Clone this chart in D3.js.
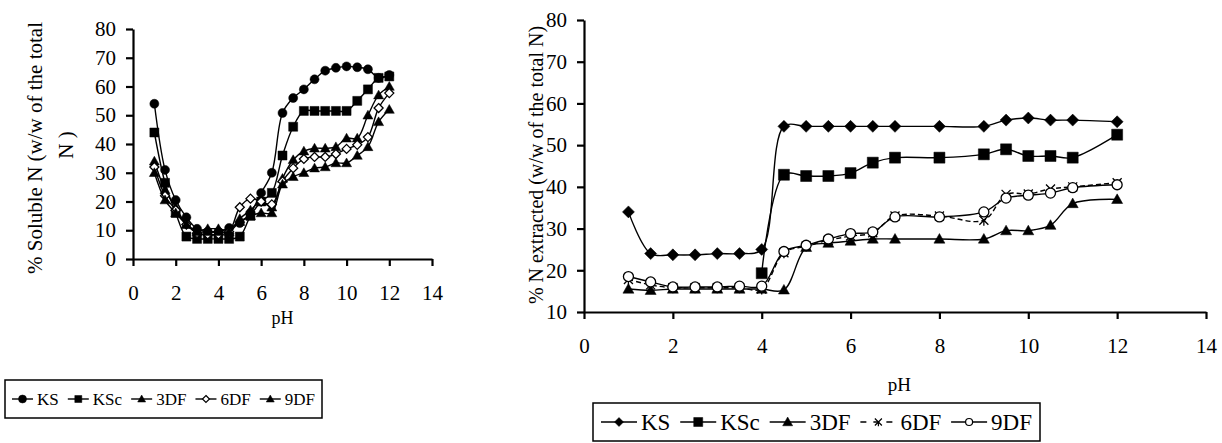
<!DOCTYPE html>
<html>
<head>
<meta charset="utf-8">
<script src="https://cdn.jsdelivr.net/npm/d3@7"></script>
<style>
  body { margin: 0; background: #fff; }
  svg, svg text { font-family: "Liberation Serif", Tinos, "Times New Roman", Times, "DejaVu Serif", serif; }
</style>
</head>
<body>
<svg id="chart" width="1222" height="443"></svg>
<script>
// ---- data ----
const SERIES_NAMES = ['KS', 'KSc', '3DF', '6DF', '9DF'];

// left panel: % soluble N
const PH_LEFT = [1, 1.5, 2, 2.5, 3, 3.5, 4, 4.5, 5, 5.5, 6, 6.5, 7, 7.5, 8, 8.5, 9, 9.5, 10, 10.5, 11, 11.5, 12];
const KS_LEFT = [54, 31, 20.5, 14.5, 10.5, 9.5, 9.5, 10.8, 12.5, 16, 23, 30, 50.8, 56, 59, 62.5, 65.5, 66.5, 67, 66.7, 66, 63, 64];
const KSC_LEFT = [44, 26.5, 16, 7.8, 7, 7, 7, 7, 7.8, 15, 20, 23, 36, 46, 51.5, 51.5, 51.5, 51.5, 51.5, 55, 59, 63, 63.5];
const DF3_LEFT = [34, 24, 18, 12, 10, 10.5, 10.5, 10, 14, 17, 20, 18, 28, 34.5, 37.5, 38.5, 38.5, 39, 42, 42, 50, 57, 60];
const DF6_LEFT = [32, 22, 17, 12, 9, 8.5, 8.5, 9.5, 18, 21, 20, 19, 27, 31.6, 34.8, 35.5, 35.5, 36.5, 38.3, 39.7, 42.4, 52.5, 57.7];
const DF9_LEFT = [30, 20.5, 16, 12, 9.5, 9.5, 9.5, 9.5, 13, 15, 16, 16, 26, 28.6, 30, 31.6, 32, 33.4, 33.4, 36, 39, 47.7, 52];

// right panel: % N extracted
const PH_RIGHT = [1, 1.5, 2, 2.5, 3, 3.5, 4, 4.5, 5, 5.5, 6, 6.5, 7, 8, 9, 9.5, 10, 10.5, 11, 12];
const KS_RIGHT = [34, 24, 23.7, 23.7, 24, 24, 25, 54.5, 54.5, 54.5, 54.5, 54.5, 54.5, 54.5, 54.5, 56, 56.5, 56, 56, 55.6];
const KSC_RIGHT = [null, null, null, null, null, null, 19.3, 42.9, 42.6, 42.6, 43.3, 45.8, 47, 47, 47.8, 49, 47.4, 47.4, 47, 52.5];
const DF3_RIGHT = [15.5, 15.2, 15.5, 15.5, 15.5, 15.5, 15.5, 15.3, 25.5, 26.5, 27, 27.5, 27.5, 27.5, 27.5, 29.5, 29.5, 30.8, 36, 37];
const DF6_RIGHT = [17.8, 16.5, 15.8, 15.8, 15.8, 15.8, 15.5, 24.2, 25.8, 27.2, 28.2, 29, 33, 33, 32, 38.2, 38.3, 39.5, 40, 41];
const DF9_RIGHT = [18.5, 17.2, 16, 16, 16, 16.2, 16.2, 24.5, 26, 27.5, 28.8, 29.2, 32.8, 32.8, 34, 37.3, 38, 38.5, 39.8, 40.5];

const X_TICKS = [0, 2, 4, 6, 8, 10, 12, 14];
const Y_TICKS_LEFT = [0, 10, 20, 30, 40, 50, 60, 70, 80];
const Y_TICKS_RIGHT = [10, 20, 30, 40, 50, 60, 70, 80];

// ---- layout ----
const LEFT = { x0: 133, x1: 432, yBottom: 259, yTop: 29 };
const RIGHT = { x0: 584, x1: 1206, yBottom: 312, yTop: 20 };
const TICK_FONT = 21;
const SERIF = '"Liberation Serif", Tinos, "Times New Roman", Times, "DejaVu Serif", serif';

const svg = d3.select('#chart');

/**
 * path string for a marker centred on 0,0
 */
function markerPath (shape, s) {
  const h = s / 2;
  if (shape === 'circle') return d3.symbol(d3.symbolCircle, Math.PI * h * h)();
  if (shape === 'square') return `M${-h},${-h}H${h}V${h}H${-h}Z`;
  if (shape === 'triangle') return `M0,${-h}L${h},${h * 0.75}L${-h},${h * 0.75}Z`;
  if (shape === 'diamond') return `M0,${-h}L${h},0L0,${h}L${-h},0Z`;
  if (shape === 'star') return `M${-h},${-h}L${h},${h}M${h},${-h}L${-h},${h}M0,${-h * 0.2}V${h * 1.2}`;
  return '';
}

function addText (x, y, str, size, rotate) {
  return svg.append('text')
    .attr('transform', `translate(${x},${y})` + (rotate ? ' rotate(-90)' : ''))
    .attr('text-anchor', 'middle')
    .attr('dy', '0.35em')
    .attr('font-family', SERIF)
    .style('font-size', size + 'px')
    .text(str);
}

function drawAxes (box, x, y, yTicks) {
  const xAxis = svg.append('g')
    .attr('transform', `translate(0,${box.yBottom})`)
    .call(d3.axisBottom(x).tickValues(X_TICKS).tickSize(7).tickSizeOuter(0).tickPadding(19));
  const yAxis = svg.append('g')
    .attr('transform', `translate(${box.x0},0)`)
    .call(d3.axisLeft(y).tickValues(yTicks).tickSize(7).tickSizeOuter(0).tickPadding(10));
  [xAxis, yAxis].forEach(a => {
    a.attr('font-family', SERIF);
    a.select('.domain').attr('stroke', '#000').attr('stroke-width', 2.2);
    a.selectAll('.tick line').attr('stroke', '#000').attr('stroke-width', 2.2);
    a.selectAll('.tick text')
      .attr('fill', '#000')
      .attr('font-family', SERIF)
      .style('font-size', TICK_FONT + 'px');
  });
}

function drawSeries (x, y, ph, series) {
  series.forEach(s => {
    const pts = ph.map((p, i) => ({ p, v: s.values[i] })).filter(d => d.v !== null);
    const line = d3.line()
      .x(d => x(d.p))
      .y(d => y(d.v))
      .curve(d3.curveCatmullRom.alpha(0.5));
    svg.append('path')
      .datum(pts)
      .attr('d', line)
      .attr('fill', 'none')
      .attr('stroke', '#000')
      .attr('stroke-width', 1.4)
      .attr('stroke-dasharray', s.dash || null);
    svg.append('g')
      .selectAll('path')
      .data(pts)
      .join('path')
      .attr('transform', d => `translate(${x(d.p)},${y(d.v)})`)
      .attr('d', markerPath(s.shape, s.size))
      .attr('fill', s.open ? '#fff' : '#000')
      .attr('stroke', '#000')
      .attr('stroke-width', s.open || s.shape === 'star' ? 1.3 : 0.5);
  });
}

/**
 * legend laid out left to right inside a box, entries spread to fill it
 */
function drawLegend (box, series, font, lineLen) {
  svg.append('rect')
    .attr('x', box.x).attr('y', box.y)
    .attr('width', box.w).attr('height', box.h)
    .attr('fill', 'none').attr('stroke', '#000').attr('stroke-width', 1.5);
  const cy = box.y + box.h / 2;
  const g = svg.append('g');
  const texts = series.map(s => g.append('text')
    .attr('dy', '0.35em')
    .attr('font-family', SERIF)
    .style('font-size', font + 'px')
    .text(s.name));
  const widths = texts.map(t => t.node().getComputedTextLength());
  const used = d3.sum(widths) + series.length * (lineLen + 4);
  const gap = (box.w - 2 * box.pad - used) / (series.length - 1);
  let cx = box.x + box.pad;
  series.forEach((s, i) => {
    const a = cx, b = cx + lineLen;
    g.append('line')
      .attr('x1', a).attr('x2', b).attr('y1', cy).attr('y2', cy)
      .attr('stroke', '#000').attr('stroke-width', 1.4)
      .attr('stroke-dasharray', s.dash ? '6,7' : null);
    g.append('path')
      .attr('transform', `translate(${(a + b) / 2},${cy})`)
      .attr('d', markerPath(s.shape, s.legendSize))
      .attr('fill', s.open ? '#fff' : '#000')
      .attr('stroke', '#000')
      .attr('stroke-width', s.open || s.shape === 'star' ? 1.2 : 0.5);
    texts[i].attr('x', b + 4).attr('y', cy);
    cx = b + 4 + widths[i] + gap;
  });
}

// ---- left panel ----
const xLeft = d3.scaleLinear().domain([0, 14]).range([LEFT.x0, LEFT.x1]);
const yLeft = d3.scaleLinear().domain([0, 80]).range([LEFT.yBottom, LEFT.yTop]);
const leftSeries = [
  { name: SERIES_NAMES[0], values: KS_LEFT, shape: 'circle', size: 9, legendSize: 8 },
  { name: SERIES_NAMES[1], values: KSC_LEFT, shape: 'square', size: 9, legendSize: 7 },
  { name: SERIES_NAMES[2], values: DF3_LEFT, shape: 'triangle', size: 10, legendSize: 8 },
  { name: SERIES_NAMES[3], values: DF6_LEFT, shape: 'diamond', size: 9, legendSize: 7, open: true },
  { name: SERIES_NAMES[4], values: DF9_LEFT, shape: 'triangle', size: 10, legendSize: 8 }
];
drawSeries(xLeft, yLeft, PH_LEFT, leftSeries);
drawAxes(LEFT, xLeft, yLeft, Y_TICKS_LEFT);

addText(35, 148, '% Soluble N (w/w of the  total', 21, true);
addText(66, 145, 'N )', 21, true);
addText((LEFT.x0 + LEFT.x1) / 2, 318, 'pH', 18, false);

drawLegend({ x: 5, y: 380, w: 317, h: 38, pad: 7 }, leftSeries, 17, 21);

// ---- right panel ----
const xRight = d3.scaleLinear().domain([0, 14]).range([RIGHT.x0, RIGHT.x1]);
const yRight = d3.scaleLinear().domain([10, 80]).range([RIGHT.yBottom, RIGHT.yTop]);
const rightSeries = [
  { name: SERIES_NAMES[0], values: KS_RIGHT, shape: 'diamond', size: 12, legendSize: 9 },
  { name: SERIES_NAMES[1], values: KSC_RIGHT, shape: 'square', size: 11, legendSize: 9 },
  { name: SERIES_NAMES[2], values: DF3_RIGHT, shape: 'triangle', size: 11, legendSize: 10 },
  { name: SERIES_NAMES[3], values: DF6_RIGHT, shape: 'star', size: 9, legendSize: 7, dash: '5,3' },
  { name: SERIES_NAMES[4], values: DF9_RIGHT, shape: 'circle', size: 10, legendSize: 7, open: true }
];
drawSeries(xRight, yRight, PH_RIGHT, rightSeries);
drawAxes(RIGHT, xRight, yRight, Y_TICKS_RIGHT);

addText(536, 165, '% N extracted (w/w of the total N)', 20, true);
addText(xRight(7.1), 384, 'pH', 19, false);

drawLegend({ x: 593, y: 403, w: 447, h: 38, pad: 8 }, rightSeries, 23, 36);
</script>
</body>
</html>
